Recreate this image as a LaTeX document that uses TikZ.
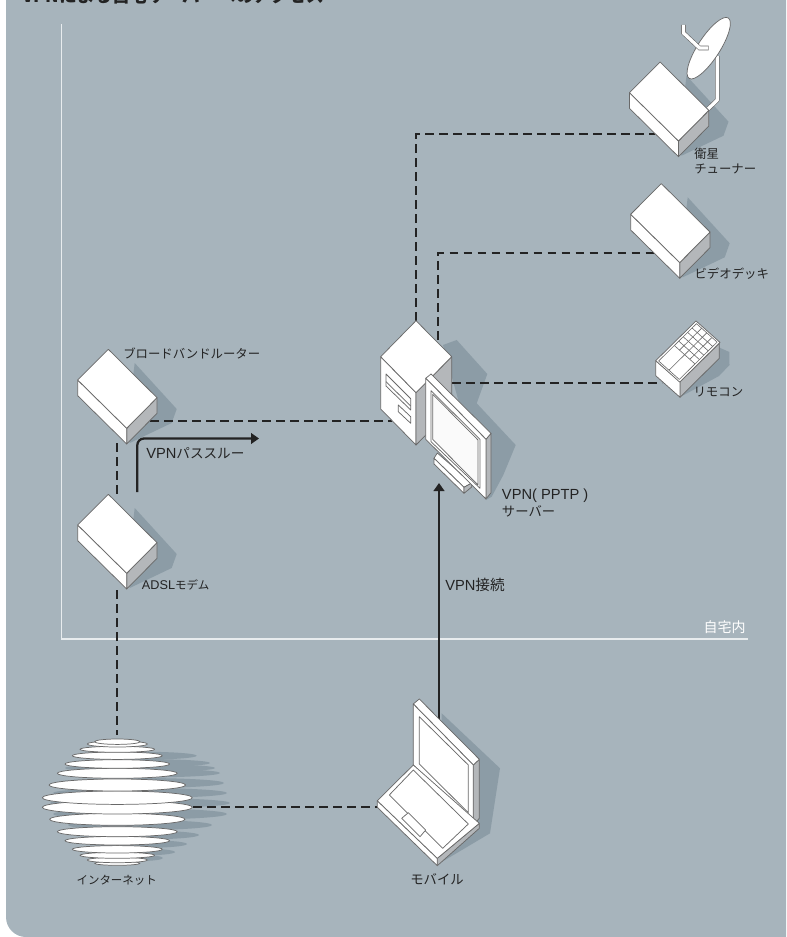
\documentclass[tikz,border=0pt]{standalone}
\usepackage{fontspec}
\setmainfont{Liberation Sans}
\newfontfamily\jpfont{Noto Sans CJK JP}
\usepackage{xcolor}
\usetikzlibrary{positioning,arrows.meta,calc}
\definecolor{panelgrey}{RGB}{167,180,188}
\definecolor{shadowgrey}{RGB}{140,156,166}
\definecolor{sidegrey}{RGB}{180,183,186}
\definecolor{edgegrey}{RGB}{105,105,105}
\definecolor{inkdark}{RGB}{35,35,35}
\definecolor{homeline}{RGB}{232,236,238}
\tikzset{
  edge/.style={draw=edgegrey,line width=0.55pt,line join=round},
  face/.style={edge,fill=white},
  side/.style={edge,fill=sidegrey},
  dashlink/.style={draw=inkdark,line width=1.4pt,dash pattern=on 6.5pt off 4pt},
  vpnarrow/.style={draw=inkdark,line width=1.7pt,-{Triangle[length=6pt,width=8pt]}},
  lbl/.style={anchor=west,inner sep=0pt,text=inkdark,font=\fontsize{9.3}{11}\selectfont\jpfont},
  devbox/.pic={
    \fill[shadowgrey] (57,-17) -- (99,29) -- (94,43) -- (52,63) -- (49,50) -- cycle;
  },
  devboxbody/.pic={
    \path[side] (49,48.3) -- (79.3,17.7) -- (79.3,33.4) -- (49,64) -- cycle;
    \path[face] (0,0) -- (49,48.3) -- (49,64) -- (0,15.7) -- cycle;
    \path[face] (0,0) -- (30.6,-30.7) -- (79.3,17.7) -- (49,48.3) -- cycle;
  },
}
\newcommand{\vpnfont}{\fontsize{11}{13.2}\selectfont}
\begin{document}
\begin{tikzpicture}[x=0.75pt,y=-0.75pt]
\useasboundingbox (0,0) rectangle (786,937);
\fill[white] (0,0) rectangle (786,937);
\fill[panelgrey] (6,0) {[rounded corners=15pt] -- (6,937)} -- (786,937) -- (786,0) -- cycle;
\begin{scope}
\clip (0,0) rectangle (786,937);
\node[anchor=west,inner sep=0pt,text=inkdark,font=\fontsize{13.3}{15}\selectfont\bfseries\jpfont] (title) at (22,-4.5) {VPNによる自宅サーバーへのアクセス};
\end{scope}

\coordinate (homecorner) at (61.5,639);
\coordinate (hometop) at (61.5,24);
\coordinate (homeend) at (748,639);
\draw[homeline,line width=0.9pt] (hometop) -- (homecorner) -- (homeend);
\node[lbl,text=white,font=\fontsize{10.5}{12}\selectfont\jpfont] (home) at (703.3,626.7) {自宅内};

\pic at (77.7,380) {devbox};
\pic at (77.7,525) {devbox};
\pic at (629.5,92.7) {devbox};
\pic at (630.7,214.3) {devbox};
\fill[shadowgrey] (700,339) -- (729.3,352) -- (729.5,365) -- (719,376) -- (682,396) -- cycle;
\fill[shadowgrey] (443,345) -- (456.7,340) -- (487.3,374) -- (476.7,403.3) -- (515.7,445) -- (503.3,475) -- (491.7,496.7) -- (486,500) -- cycle;
\fill[shadowgrey] (441.7,713.3) -- (500,768.3) -- (490,833.3) -- (440,863) -- cycle;
\foreach \sy/\sx/\sr in {755.7/196.7/4,763/210/4,768/215/4,773/220/4.5,783/224/5,793/227/5,803/230/5,814/227/5.5,825/212/5,835/199/4.5,844/187/4,852/175/3.5,858/163/3}
  \fill[shadowgrey] (140,\sy) ellipse [x radius=\sx-140,y radius=\sr];

\coordinate (servertop) at (416,321);
\coordinate (serverback) at (438.3,340);
\coordinate (serverright) at (452,383);
\coordinate (serverleft) at (392,420.7);
\coordinate (satport) at (655,134);
\coordinate (videoport) at (655,253.3);
\coordinate (remoteport) at (662,383);
\coordinate (routerport) at (150,420.7);
\coordinate (routerdown) at (117.3,443);
\coordinate (modemup) at (117.3,497);
\coordinate (modemdown) at (117.3,590);
\coordinate (netup) at (117.3,735);
\coordinate (netright) at (193,806.7);
\coordinate (laptopleft) at (377.3,806.7);
\coordinate (laptoptop) at (439,719);
\coordinate (serverbase) at (439,483);
\coordinate (passstart) at (137.3,492);
\coordinate (passcorner) at (137.3,438.5);
\coordinate (passend) at (259,438.5);
\draw[dashlink] (servertop) |- (satport);
\draw[dashlink] (serverback) |- (videoport);
\draw[dashlink] (serverright) -- (remoteport);
\draw[dashlink] (routerport) -- (serverleft);
\draw[dashlink] (routerdown) -- (modemup);
\draw[dashlink] (modemdown) -- (netup);
\draw[dashlink] (netright) -- (laptopleft);
\draw[vpnarrow,rounded corners=5pt] (passstart) -- (passcorner) -- (passend);
\draw[vpnarrow] (laptoptop) -- (serverbase);

\pic at (77.7,380) {devboxbody};
\pic at (77.7,525) {devboxbody};
\pic at (630.7,214.3) {devboxbody};

\draw[edgegrey,line width=3.4pt,line join=round] (717.3,56) -- (717.3,100) -- (708,109);
\draw[white,line width=2.5pt,line join=round] (717.3,56) -- (717.3,100) -- (708,109);
\pic at (629.5,92.7) {devboxbody};
\path[face] (708.7,48.2) ellipse [x radius=36,y radius=11,rotate=57];
\draw[edgegrey,line width=3.4pt,line join=miter] (683.5,25) -- (683.5,33) -- (699.5,48) -- (708.5,48);
\draw[white,line width=2.5pt,line join=miter] (683.5,25) -- (683.5,33) -- (699.5,48) -- (708,48);

\path[side] (680,381.7) -- (719.3,343.3) -- (719.3,358.3) -- (680,397.3) -- cycle;
\path[face] (655.7,360.7) -- (680,381.7) -- (680,397.3) -- (655.7,375.7) -- cycle;
\begin{scope}[x={(30.2pt,29.8pt)},y={(18pt,-16.1pt)},shift={(491.8pt,-270.5pt)}]
\path[face] (0,0) -- (1,0) -- (1,1) -- (0,1) -- cycle;
\draw[edge,line width=0.45pt] (0.03,0.07) -- (0.97,0.07) -- (0.97,0.93) -- (0.03,0.93) -- cycle;
\draw[edge,line width=0.45pt] (0.03,0.5) -- (0.42,0.5);
\draw[edge,line width=0.45pt] (0.42,0.07) -- (0.42,0.93);
\foreach \gu in {0.53,0.64,0.75,0.86}
  \draw[edge,line width=0.45pt] (\gu,0.07) -- (\gu,0.93);
\foreach \gv in {0.285,0.5,0.715}
  \draw[edge,line width=0.45pt] (0.42,\gv) -- (0.97,\gv);
\end{scope}

\path[face] (380.7,356.7) -- (416,392.7) -- (416,445) -- (380.7,409) -- cycle;
\path[side] (416,392.7) -- (451.7,356.7) -- (451.7,409) -- (416,445) -- cycle;
\path[face] (380.7,356.7) -- (416,320.7) -- (451.7,356.7) -- (416,392.7) -- cycle;
\path[face,fill=none] (386,374) -- (410.7,398.7) -- (410.7,410) -- (386,386) -- cycle;
\draw[edge] (386,381.7) -- (410.7,406);
\path[face,fill=none] (398.3,405) -- (410.7,416.7) -- (410.7,423.3) -- (398.3,411.7) -- cycle;

\path[face] (434,458.3) -- (437.3,453) -- (471.7,483) -- (464,487.3) -- cycle;
\path[face] (434,458.3) -- (464,487.3) -- (464,493.3) -- (434,464) -- cycle;
\path[side] (464,487.3) -- (471.7,483) -- (471.7,487) -- (464,493.3) -- cycle;
\path[side] (486,439.3) -- (491,433.3) -- (491,492.7) -- (486,499) -- cycle;
\path[face] (425.7,378.3) -- (431,374) -- (491,433.3) -- (486,439.3) -- cycle;
\path[face] (425.7,378.3) -- (486,439.3) -- (486,499) -- (425.7,439.3) -- cycle;
\path[face] (431,390.7) -- (480,439.3) -- (480,488.3) -- (431,441.7) -- cycle;
\path[edge,fill=white!98!black] (432.7,394.3) -- (478,440) -- (478,485) -- (432.7,439.3) -- cycle;

\path[side] (473.3,765) -- (479.3,759.3) -- (479.3,818.3) -- (473.3,825) -- cycle;
\path[face] (413.3,704) -- (419.3,699) -- (479.3,759.3) -- (473.3,765) -- cycle;
\path[face] (413.3,704) -- (473.3,765) -- (473.3,825) -- (413.3,765) -- cycle;
\path[face] (419.3,716.7) -- (468.3,765) -- (468.3,812.7) -- (419.3,764) -- cycle;
\path[side] (437.3,858.3) -- (479.3,823.3) -- (479.3,828.3) -- (437.3,865.7) -- cycle;
\path[face] (377.3,800.7) -- (437.3,858.3) -- (437.3,865.7) -- (377.3,807.3) -- cycle;
\path[face] (377.3,800.7) -- (413.3,765) -- (479.3,823.3) -- (437.3,858.3) -- cycle;
\path[face] (413.3,770) -- (468.3,824) -- (442.7,848.3) -- (389.3,795) -- cycle;
\path[face] (408.3,812.7) -- (425.7,830) -- (420,836.7) -- (401.7,818.3) -- cycle;

\foreach \gy/\gx/\gr in {863.3/22.7/2,860/30/2.7,855.3/37.3/3,849.3/45/3.7,840.7/52.3/4.3,831.7/60/5,819.3/67.7/6,807.3/75/6.7,797.7/75/6.7,785/68.3/6,773.3/60/5,764/52.3/4.3,755.7/45/3.7,749.3/37.3/3,744/30/3,741.7/22.7/2.7}
  \path[face] (117.3,\gy) ellipse [x radius=\gx,y radius=\gr];

\node[lbl] (routerlbl) at (123,353) {ブロードバンドルーター};
\node[lbl,font=\fontsize{9.5}{11}\selectfont] (modemlbl) at (141.7,585) {ADSL{\fontsize{8.6}{11}\selectfont\jpfont モデム}};
\node[lbl,align=left] (satlbl) at (694,161) {衛星\\チューナー};
\node[lbl] (videolbl) at (694.3,273.3) {ビデオデッキ};
\node[lbl] (remotelbl) at (693.3,391.7) {リモコン};
\node[lbl,font=\vpnfont,align=left] (serverlbl) at (501.7,503) {VPN( PPTP )\\{\fontsize{10}{13.2}\selectfont\jpfont サーバー}};
\node[lbl,font=\vpnfont] (passlbl) at (146,453.3) {VPN{\fontsize{10.2}{13}\selectfont\jpfont パススルー}};
\node[lbl,font=\vpnfont] (linklbl) at (445,585) {VPN{\fontsize{11}{13}\selectfont\jpfont 接続}};
\node[lbl,anchor=center,font=\fontsize{8.6}{11}\selectfont\jpfont] (netlbl) at (116.7,880) {インターネット};
\node[lbl,anchor=center,font=\fontsize{10}{12}\selectfont\jpfont] (mobilelbl) at (437,879.3) {モバイル};
\end{tikzpicture}
\end{document}
